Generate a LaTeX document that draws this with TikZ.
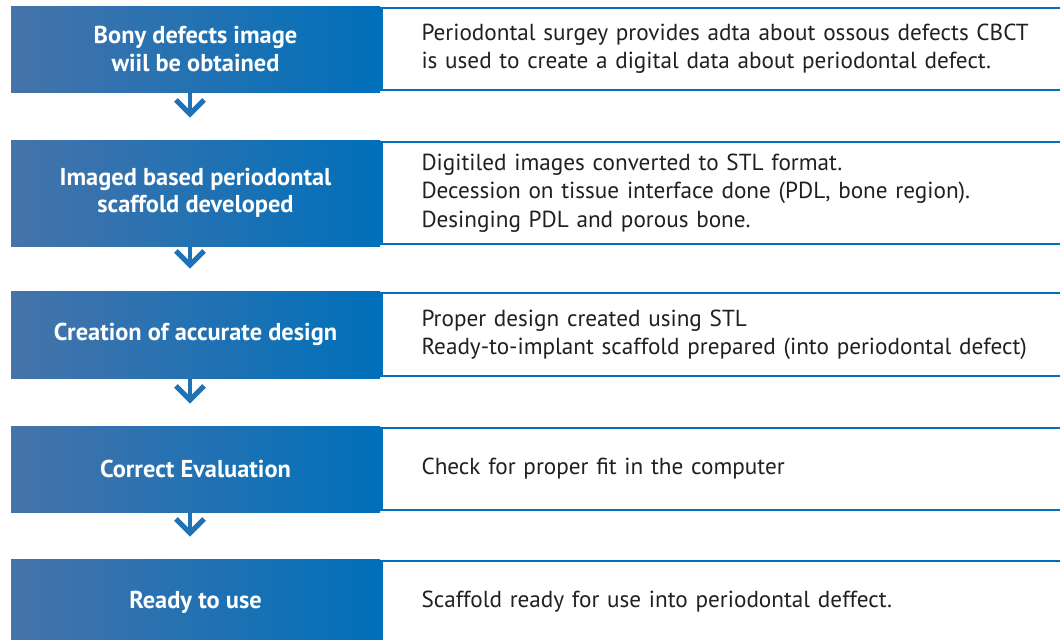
\documentclass[tikz,border=0pt]{standalone}
\usepackage{fontspec}
\setmainfont{PT Sans}
\usepackage{tikz}
\usetikzlibrary{arrows.meta,positioning}

\definecolor{stepblue}{HTML}{0070BA}
\definecolor{stepgrey}{HTML}{4673AA}
\definecolor{steptext}{HTML}{231F20}
\definecolor{steparrow}{HTML}{1F72B6}

\begin{document}
\begin{tikzpicture}[x=0.5pt,y=-0.5pt,
	stepbox/.style={left color=stepgrey, right color=stepblue, draw=none, text=white,
		font=\bfseries\fontsize{12.2pt}{13.6pt}\selectfont, align=center,
		minimum width=184.5pt, inner sep=0pt},
	notebox/.style={draw=stepblue, line width=1.1pt, fill=white, text=steptext,
		font=\fontsize{11.6pt}{14.1pt}\selectfont, align=left, text width=330pt,
		inner xsep=20pt, inner ysep=0pt, anchor=west},
	flowarrow/.style={draw=steparrow, line width=2pt, shorten >=11pt,
		-{Straight Barb[length=7pt, width=14pt, line width=2.6pt]}}]
	\useasboundingbox (0,0) rectangle (1060,639);
	\node[stepbox, minimum height=43pt] (s1) at (195.5,49) {Bony defects image\\wiil be obtained};
	\node[stepbox, minimum height=53pt] (s2) at (195.5,193) {Imaged based periodontal\\scaffold developed};
	\node[stepbox, minimum height=43.5pt] (s3) at (195.5,334.5) {Creation of accurate design};
	\node[stepbox, minimum height=43pt] (s4) at (195.5,469) {Correct Evaluation};
	\node[stepbox, minimum height=43pt] (s5) at (195.5,602) {Ready to use};
	\node[notebox, minimum height=41pt] (n1) at (s1.east)
		{Periodontal surgey provides adta about ossous defects CBCT\\is used to create a digital data about periodontal defect.};
	\node[notebox, minimum height=51pt] (n2) at (s2.east)
		{Digitiled images converted to STL format.\\Decession on tissue interface done (PDL, bone region).\\Desinging PDL and porous bone.};
	\node[notebox, minimum height=41.5pt] (n3) at (s3.east)
		{Proper design created using STL\\Ready-to-implant scaffold prepared (into periodontal defect)};
	\node[notebox, minimum height=41pt] (n4) at (s4.east) {Check for proper fit in the computer};
	\node[notebox, minimum height=41pt] (n5) at (s5.east) {Scaffold ready for use into periodontal deffect.};
	\foreach \a/\b in {s1/s2, s2/s3, s3/s4, s4/s5}
		\draw[flowarrow] ([xshift=-2.75pt]\a.south) -- ([xshift=-2.75pt]\b.north);
\end{tikzpicture}
\end{document}
